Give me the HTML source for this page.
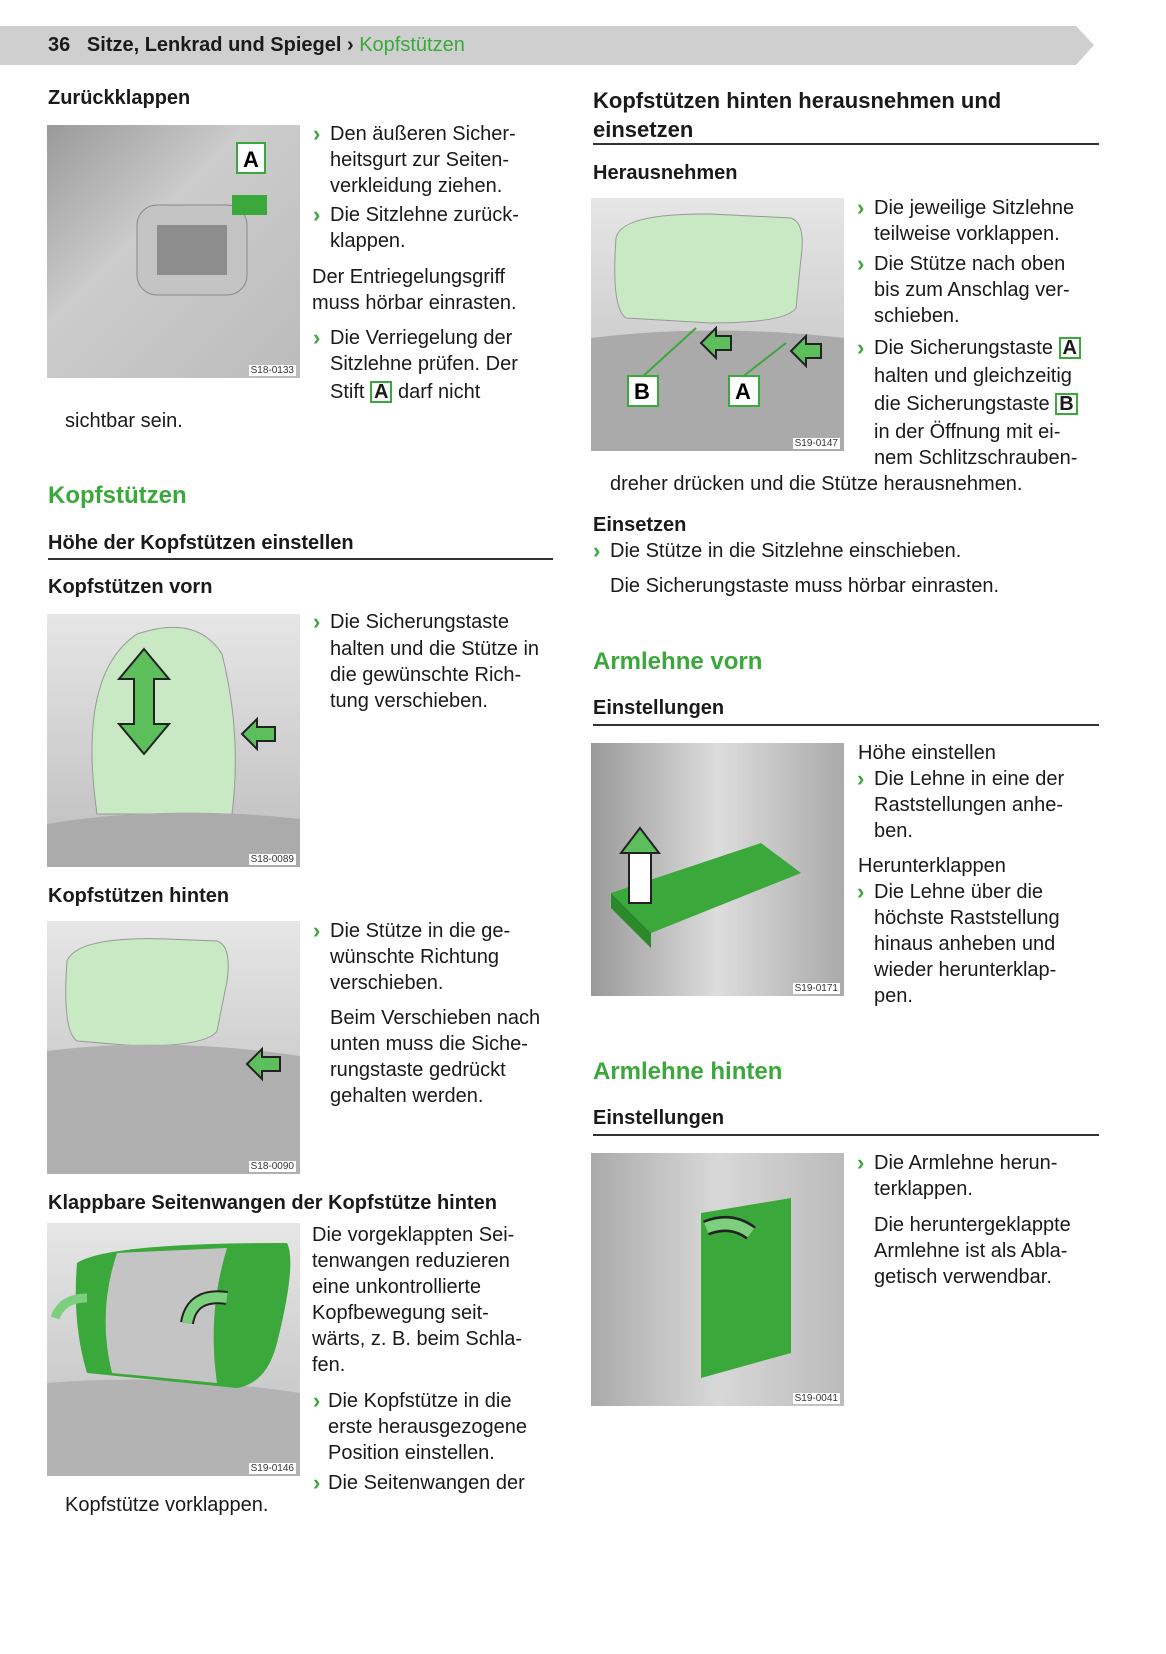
<!DOCTYPE html>
<html><head><meta charset="utf-8"><style>
body{margin:0;background:#fff;width:1166px;height:1654px;position:relative;overflow:hidden;font-family:"Liberation Sans",sans-serif;color:#1a1a1a}
.t{position:absolute;font-size:20px;line-height:26px;white-space:nowrap}
.b{position:absolute;font-size:22px;line-height:26px;color:#3aa83a;font-weight:bold}
.h{position:absolute;font-weight:bold;font-size:20px;line-height:26px;white-space:nowrap}
.g{position:absolute;font-weight:bold;font-size:24px;line-height:30px;color:#3aa83a;white-space:nowrap}
.r{position:absolute;height:2px;background:#333}
.img{position:absolute;width:253px;height:253px;background:linear-gradient(180deg,#e6e6e6,#bdbdbd);overflow:hidden}
.img svg{position:absolute;left:0;top:0}
.lbl{position:absolute;right:4px;bottom:2px;font-size:10px;color:#333;background:#fff;padding:0 2px}
.k{display:inline-block;border:2px solid #3aa83a;padding:0 2px;line-height:18px;font-weight:bold}
</style></head><body>
<svg style="position:absolute;left:0;top:26px" width="1110" height="39"><polygon points="0,0 1076,0 1094,19 1076,39 0,39" fill="#cfcfcf"/></svg>
<div class="h" style="left:48px;top:32px;font-size:20px">36&nbsp;&nbsp; Sitze, Lenkrad und Spiegel › <span style="color:#3aa83a;font-weight:normal">Kopfstützen</span></div>

<!-- LEFT -->
<div class="h" style="left:48px;top:85px">Zurückklappen</div>
<div class="img" style="left:47px;top:125px;background:linear-gradient(135deg,#999,#ccc 40%,#bbb)">
<svg width="253" height="253"><rect x="90" y="80" width="110" height="90" rx="20" fill="#c4c4c4" stroke="#888"/><rect x="110" y="100" width="70" height="50" fill="#8d8d8d"/><rect x="185" y="70" width="35" height="20" fill="#3aa83a"/><rect x="190" y="18" width="28" height="30" fill="#fff" stroke="#3aa83a" stroke-width="2"/><text x="196" y="42" font-size="22" font-weight="bold" font-family="Liberation Sans">A</text></svg><span class="lbl">S18-0133</span></div>
<div class="b" style="left:313px;top:121px">›</div><div class="t" style="left:330px;top:121px">Den äußeren Sicher-</div>
<div class="t" style="left:330px;top:147px">heitsgurt zur Seiten-</div>
<div class="t" style="left:330px;top:173px">verkleidung ziehen.</div>
<div class="b" style="left:313px;top:202px">›</div><div class="t" style="left:330px;top:202px">Die Sitzlehne zurück-</div>
<div class="t" style="left:330px;top:228px">klappen.</div>
<div class="t" style="left:312px;top:264px">Der Entriegelungsgriff</div>
<div class="t" style="left:312px;top:290px">muss hörbar einrasten.</div>
<div class="b" style="left:313px;top:325px">›</div><div class="t" style="left:330px;top:325px">Die Verriegelung der</div>
<div class="t" style="left:330px;top:351px">Sitzlehne prüfen. Der</div>
<div class="t" style="left:330px;top:379px">Stift <span class="k">A</span> darf nicht</div>
<div class="t" style="left:65px;top:408px">sichtbar sein.</div>

<div class="g" style="left:48px;top:481px">Kopfstützen</div>
<div class="h" style="left:48px;top:530px">Höhe der Kopfstützen einstellen</div>
<div class="r" style="left:48px;top:558px;width:505px"></div>
<div class="h" style="left:48px;top:574px">Kopfstützen vorn</div>
<div class="img" style="left:47px;top:614px">
<svg width="253" height="253"><path d="M50 200 Q30 60 90 20 Q150 0 175 40 Q195 120 185 200 Z" fill="#c9e8c4" stroke="#999"/><path d="M0 210 Q120 190 253 205 L253 253 L0 253 Z" fill="#ababab"/><polygon points="97,35 72,65 87,65 87,110 72,110 97,140 122,110 107,110 107,65 122,65" fill="#5cbf5c" stroke="#222" stroke-width="2"/><polygon points="195,120 210,105 210,113 228,113 228,127 210,127 210,135" fill="#5cbf5c" stroke="#222" stroke-width="2"/></svg><span class="lbl">S18-0089</span></div>
<div class="b" style="left:313px;top:609px">›</div><div class="t" style="left:330px;top:609px">Die Sicherungstaste</div>
<div class="t" style="left:330px;top:636px">halten und die Stütze in</div>
<div class="t" style="left:330px;top:662px">die gewünschte Rich-</div>
<div class="t" style="left:330px;top:688px">tung verschieben.</div>

<div class="h" style="left:48px;top:883px">Kopfstützen hinten</div>
<div class="img" style="left:47px;top:921px">
<svg width="253" height="253"><path d="M20 40 Q30 15 120 18 L170 20 Q185 25 180 60 L170 110 Q160 125 90 125 L30 120 Q15 110 20 40Z" fill="#c9e8c4" stroke="#999"/><path d="M0 130 Q120 115 253 135 L253 253 L0 253 Z" fill="#b0b0b0"/><polygon points="200,143 215,128 215,136 233,136 233,150 215,150 215,158" fill="#5cbf5c" stroke="#222" stroke-width="2"/></svg><span class="lbl">S18-0090</span></div>
<div class="b" style="left:313px;top:918px">›</div><div class="t" style="left:330px;top:918px">Die Stütze in die ge-</div>
<div class="t" style="left:330px;top:944px">wünschte Richtung</div>
<div class="t" style="left:330px;top:970px">verschieben.</div>
<div class="t" style="left:330px;top:1005px">Beim Verschieben nach</div>
<div class="t" style="left:330px;top:1031px">unten muss die Siche-</div>
<div class="t" style="left:330px;top:1057px">rungstaste gedrückt</div>
<div class="t" style="left:330px;top:1083px">gehalten werden.</div>

<div class="h" style="left:48px;top:1190px">Klappbare Seitenwangen der Kopfstütze hinten</div>
<div class="img" style="left:47px;top:1223px">
<svg width="253" height="253"><path d="M0 160 Q120 150 253 170 L253 253 L0 253 Z" fill="#b3b3b3"/><path d="M30 40 Q60 20 240 20 Q250 40 230 120 Q220 160 190 165 L40 150 Q25 100 30 40Z" fill="#3aa83a"/><path d="M70 30 L180 25 Q160 90 170 160 L65 150 Q50 90 70 30Z" fill="#c4c4c4"/><path d="M140 100 Q145 70 180 75" stroke="#222" stroke-width="14" fill="none"/><path d="M140 100 Q145 70 180 75" stroke="#7ccf7c" stroke-width="10" fill="none"/><path d="M8 95 Q15 75 40 75" stroke="#7ccf7c" stroke-width="9" fill="none"/></svg><span class="lbl">S19-0146</span></div>
<div class="t" style="left:312px;top:1222px">Die vorgeklappten Sei-</div>
<div class="t" style="left:312px;top:1248px">tenwangen reduzieren</div>
<div class="t" style="left:312px;top:1274px">eine unkontrollierte</div>
<div class="t" style="left:312px;top:1300px">Kopfbewegung seit-</div>
<div class="t" style="left:312px;top:1326px">wärts, z. B. beim Schla-</div>
<div class="t" style="left:312px;top:1352px">fen.</div>
<div class="b" style="left:313px;top:1388px">›</div><div class="t" style="left:328px;top:1388px">Die Kopfstütze in die</div>
<div class="t" style="left:328px;top:1414px">erste herausgezogene</div>
<div class="t" style="left:328px;top:1440px">Position einstellen.</div>
<div class="b" style="left:313px;top:1470px">›</div><div class="t" style="left:328px;top:1470px">Die Seitenwangen der</div>
<div class="t" style="left:65px;top:1492px">Kopfstütze vorklappen.</div>

<!-- RIGHT -->
<div class="h" style="left:593px;top:86px;font-size:22px;line-height:29px">Kopfstützen hinten herausnehmen und<br>einsetzen</div>
<div class="r" style="left:593px;top:143px;width:506px"></div>
<div class="h" style="left:593px;top:160px">Herausnehmen</div>
<div class="img" style="left:591px;top:198px">
<svg width="253" height="253"><path d="M25 40 Q30 15 120 16 L200 20 Q215 25 210 60 L205 110 Q195 125 120 125 L35 120 Q20 110 25 40Z" fill="#c9e8c4" stroke="#999"/><path d="M0 140 Q120 125 253 140 L253 253 L0 253 Z" fill="#aaa"/><line x1="50" y1="180" x2="105" y2="130" stroke="#3aa83a" stroke-width="2"/><line x1="150" y1="180" x2="195" y2="145" stroke="#3aa83a" stroke-width="2"/><rect x="37" y="178" width="30" height="30" fill="#fff" stroke="#3aa83a" stroke-width="2"/><text x="43" y="201" font-size="22" font-weight="bold" font-family="Liberation Sans">B</text><rect x="138" y="178" width="30" height="30" fill="#fff" stroke="#3aa83a" stroke-width="2"/><text x="144" y="201" font-size="22" font-weight="bold" font-family="Liberation Sans">A</text><polygon points="110,145 125,130 125,138 140,138 140,152 125,152 125,160" fill="#5cbf5c" stroke="#222" stroke-width="2"/><polygon points="200,153 215,138 215,146 230,146 230,160 215,160 215,168" fill="#5cbf5c" stroke="#222" stroke-width="2"/></svg><span class="lbl">S19-0147</span></div>
<div class="b" style="left:857px;top:195px">›</div><div class="t" style="left:874px;top:195px">Die jeweilige Sitzlehne</div>
<div class="t" style="left:874px;top:221px">teilweise vorklappen.</div>
<div class="b" style="left:857px;top:251px">›</div><div class="t" style="left:874px;top:251px">Die Stütze nach oben</div>
<div class="t" style="left:874px;top:277px">bis zum Anschlag ver-</div>
<div class="t" style="left:874px;top:303px">schieben.</div>
<div class="b" style="left:857px;top:335px">›</div><div class="t" style="left:874px;top:335px">Die Sicherungstaste <span class="k">A</span></div>
<div class="t" style="left:874px;top:363px">halten und gleichzeitig</div>
<div class="t" style="left:874px;top:391px">die Sicherungstaste <span class="k">B</span></div>
<div class="t" style="left:874px;top:419px">in der Öffnung mit ei-</div>
<div class="t" style="left:874px;top:445px">nem Schlitzschrauben-</div>
<div class="t" style="left:610px;top:471px">dreher drücken und die Stütze herausnehmen.</div>
<div class="h" style="left:593px;top:512px">Einsetzen</div>
<div class="b" style="left:593px;top:538px">›</div><div class="t" style="left:610px;top:538px">Die Stütze in die Sitzlehne einschieben.</div>
<div class="t" style="left:610px;top:573px">Die Sicherungstaste muss hörbar einrasten.</div>

<div class="g" style="left:593px;top:647px">Armlehne vorn</div>
<div class="h" style="left:593px;top:695px">Einstellungen</div>
<div class="r" style="left:593px;top:724px;width:506px"></div>
<div class="img" style="left:591px;top:743px;background:linear-gradient(90deg,#999,#ddd 50%,#aaa)">
<svg width="253" height="253"><path d="M20 150 L170 100 L210 130 L60 190 Z" fill="#3aa83a"/><path d="M20 150 L60 190 L60 205 L20 165Z" fill="#2a8a2a"/><rect x="38" y="110" width="22" height="50" fill="#fff" stroke="#222" stroke-width="2"/><polygon points="49,85 30,110 68,110" fill="#5cbf5c" stroke="#222" stroke-width="2"/></svg><span class="lbl">S19-0171</span></div>
<div class="t" style="left:858px;top:740px">Höhe einstellen</div>
<div class="b" style="left:857px;top:766px">›</div><div class="t" style="left:874px;top:766px">Die Lehne in eine der</div>
<div class="t" style="left:874px;top:792px">Raststellungen anhe-</div>
<div class="t" style="left:874px;top:818px">ben.</div>
<div class="t" style="left:858px;top:853px">Herunterklappen</div>
<div class="b" style="left:857px;top:879px">›</div><div class="t" style="left:874px;top:879px">Die Lehne über die</div>
<div class="t" style="left:874px;top:905px">höchste Raststellung</div>
<div class="t" style="left:874px;top:931px">hinaus anheben und</div>
<div class="t" style="left:874px;top:957px">wieder herunterklap-</div>
<div class="t" style="left:874px;top:983px">pen.</div>

<div class="g" style="left:593px;top:1057px">Armlehne hinten</div>
<div class="h" style="left:593px;top:1105px">Einstellungen</div>
<div class="r" style="left:593px;top:1134px;width:506px"></div>
<div class="img" style="left:591px;top:1153px;background:linear-gradient(90deg,#aaa,#d8d8d8 50%,#bbb)">
<svg width="253" height="253"><polygon points="110,60 200,45 200,200 110,225" fill="#3aa83a"/><path d="M160 80 Q140 65 115 75" stroke="#222" stroke-width="16" fill="none"/><path d="M160 80 Q140 65 115 75" stroke="#7ccf7c" stroke-width="11" fill="none"/></svg><span class="lbl">S19-0041</span></div>
<div class="b" style="left:857px;top:1150px">›</div><div class="t" style="left:874px;top:1150px">Die Armlehne herun-</div>
<div class="t" style="left:874px;top:1176px">terklappen.</div>
<div class="t" style="left:874px;top:1212px">Die heruntergeklappte</div>
<div class="t" style="left:874px;top:1238px">Armlehne ist als Abla-</div>
<div class="t" style="left:874px;top:1264px">getisch verwendbar.</div>
</body></html>
